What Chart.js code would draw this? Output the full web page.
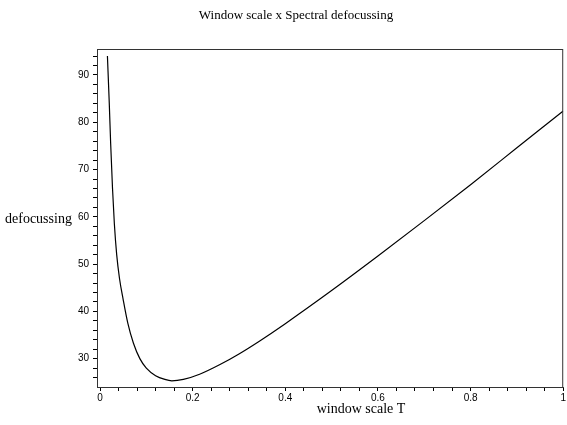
<!DOCTYPE html>
<html>
<head>
<meta charset="utf-8">
<script src="https://cdn.jsdelivr.net/npm/chart.js@4.4.1/dist/chart.umd.min.js"></script>
<style>
  html, body { margin: 0; padding: 0; background: #fff; }
  #wrap { width: 567px; height: 425px; position: relative; }
</style>
</head>
<body>
<div id="wrap"><canvas id="c"></canvas></div>
<script>
// values
const windowScale = [0.016, 0.02, 0.023, 0.027, 0.031, 0.036, 0.042, 0.05, 0.06, 0.072, 0.086, 0.1, 0.12, 0.14, 0.155, 0.18, 0.215, 0.258, 0.3, 0.344, 0.4, 0.5, 0.6, 0.7, 0.8, 0.9, 1.0];
const defocussing = [94.0, 84.0, 75.5, 66.0, 58.5, 52.0, 47.0, 42.5, 37.5, 33.3, 30.0, 28.0, 26.4, 25.6, 25.3, 25.6, 26.7, 28.7, 31.0, 33.7, 37.4, 44.4, 51.7, 59.2, 66.8, 74.6, 82.4];

const xTickValues = [0, 0.04, 0.08, 0.12, 0.16, 0.2, 0.24, 0.28, 0.32, 0.36, 0.4, 0.44, 0.48, 0.52, 0.56, 0.6, 0.64, 0.68, 0.72, 0.76, 0.8, 0.84, 0.88, 0.92, 0.96, 1];
const xTickLabels = ['0', '0.2', '0.4', '0.6', '0.8', '1'];
const yTickValues = [26, 28, 30, 32, 34, 36, 38, 40, 42, 44, 46, 48, 50, 52, 54, 56, 58, 60, 62, 64, 66, 68, 70, 72, 74, 76, 78, 80, 82, 84, 86, 88, 90, 92, 94];
const yTickLabels = ['30', '40', '50', '60', '70', '80', '90'];

const TITLE = 'Window scale x Spectral defocussing';
const X_LABEL = 'window scale T';
const Y_LABEL = 'defocussing';

const SERIF = "'Liberation Serif', 'Times New Roman', serif";
const SANS = "'Liberation Sans', Arial, sans-serif";

const points = windowScale.map((t, i) => ({ x: t, y: defocussing[i] }));

const fmtX = (v) => {
    const s = String(Math.round(v * 10) / 10);
    return xTickLabels.includes(s) && Math.abs(v * 5 - Math.round(v * 5)) < 1e-6 ? s : '';
};
const fmtY = (v) => {
    const s = String(Math.round(v));
    return yTickLabels.includes(s) ? s : '';
};

// frame + text labels (maple style)
const framePlugin = {
    id: 'frame',
    afterDraw(chart) {
        const { ctx, chartArea: a } = chart;
        ctx.save();
        ctx.strokeStyle = '#333';
        ctx.lineWidth = 1;
        ctx.strokeRect(a.left + 0.5, a.top + 0.5, a.right - a.left - 1, a.bottom - a.top);
        ctx.fillStyle = '#000';
        ctx.textBaseline = 'middle';
        ctx.textAlign = 'center';
        ctx.font = '13px ' + SERIF;
        ctx.fillText(TITLE, 296, 16);
        ctx.font = '14px ' + SERIF;
        ctx.fillText(X_LABEL, 361, 409);
        ctx.textAlign = 'left';
        ctx.fillText(Y_LABEL, 5, 219);
        ctx.restore();
    }
};

new Chart(document.getElementById('c'), {
    type: 'scatter',
    data: {
        datasets: [{
            data: points,
            showLine: true,
            borderColor: '#000',
            borderWidth: 1.2,
            pointRadius: 0,
            cubicInterpolationMode: 'monotone',
            fill: false
        }]
    },
    options: {
        responsive: true,
        maintainAspectRatio: false,
        animation: false,
        events: [],
        layout: { autoPadding: false, padding: { top: 49, right: 2, bottom: 0, left: 0 } },
        plugins: {
            legend: { display: false },
            title: { display: false },
            tooltip: { enabled: false }
        },
        scales: {
            x: {
                type: 'linear',
                min: -0.0065,
                max: 1,
                afterFit: (s) => { s.height = 38; },
                afterBuildTicks: (s) => { s.ticks = xTickValues.map(v => ({ value: v })); },
                border: { display: true, color: '#333', width: 1 },
                grid: { drawOnChartArea: false, drawTicks: true, tickLength: 4, color: '#000' },
                ticks: {
                    autoSkip: false,
                    maxRotation: 0,
                    padding: 1,
                    color: '#000',
                    font: { family: SANS, size: 10 },
                    callback: (v) => fmtX(v)
                }
            },
            y: {
                type: 'linear',
                min: 24,
                max: 95.5,
                afterFit: (s) => { s.width = 97; },
                afterBuildTicks: (s) => { s.ticks = yTickValues.map(v => ({ value: v })); },
                border: { display: true, color: '#333', width: 1 },
                grid: { drawOnChartArea: false, drawTicks: true, tickLength: 4, color: '#000' },
                ticks: {
                    autoSkip: false,
                    padding: 4,
                    color: '#000',
                    font: { family: SANS, size: 10 },
                    callback: (v) => fmtY(v)
                }
            }
        }
    },
    plugins: [framePlugin]
});
</script>
</body>
</html>
